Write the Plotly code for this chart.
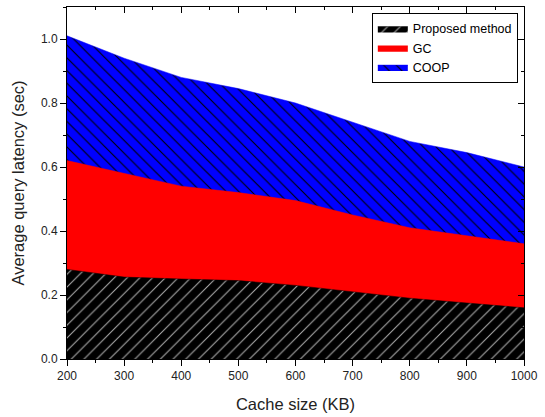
import plotly.graph_objects as go

cache_kb = [200, 300, 400, 500, 600, 700, 800, 900, 1000]
proposed = [0.28, 0.256, 0.25, 0.245, 0.23, 0.21, 0.19, 0.175, 0.16]
gc = [0.62, 0.58, 0.54, 0.52, 0.495, 0.45, 0.41, 0.385, 0.36]
coop = [1.01, 0.94, 0.88, 0.845, 0.80, 0.74, 0.68, 0.645, 0.60]

fig = go.Figure()
fig.add_trace(go.Scatter(
    x=cache_kb, y=coop, name="COOP", mode="lines", fill="tozeroy",
    line=dict(color="#0000ff", width=0.5),
    fillpattern=dict(shape="\\", bgcolor="#0000ff", fgcolor="#000000",
                     size=9, solidity=0.12, fillmode="replace"),
))
fig.add_trace(go.Scatter(
    x=cache_kb, y=gc, name="GC", mode="lines", fill="tozeroy",
    line=dict(color="#ff0000", width=0.5), fillcolor="#ff0000",
))
fig.add_trace(go.Scatter(
    x=cache_kb, y=proposed, name="Proposed method", mode="lines", fill="tozeroy",
    line=dict(color="#000000", width=0.5),
    fillpattern=dict(shape="/", bgcolor="#000000", fgcolor="#aaaaaa",
                     size=9, solidity=0.12, fillmode="replace"),
))
# invisible trace to anchor the mirrored (top/right) axes
fig.add_trace(go.Scatter(x=[200], y=[0], xaxis="x2", yaxis="y2",
                         mode="markers", marker=dict(opacity=0),
                         showlegend=False, hoverinfo="skip"))

font = "Liberation Sans, Arial, sans-serif"
fig.update_layout(
    width=545, height=417,
    margin=dict(l=67, r=21, t=7, b=58),
    paper_bgcolor="white", plot_bgcolor="white",
    font=dict(family=font, color="#222222"),
    showlegend=True,
    legend=dict(
        x=0.667, y=0.983, xanchor="left", yanchor="top",
        traceorder="reversed", bgcolor="white",
        bordercolor="#000000", borderwidth=1,
        font=dict(size=12.5, family=font, color="#000000"),
        itemwidth=30, tracegroupgap=0,
    ),
    xaxis=dict(
        range=[200, 1000], tickvals=[200, 300, 400, 500, 600, 700, 800, 900, 1000],
        ticks="outside", ticklen=6, tickcolor="#000", tickwidth=1,
        minor=dict(dtick=50, tick0=200, ticks="outside", ticklen=3, tickcolor="#000"),
        showline=True, linecolor="#000", linewidth=1, showgrid=False, zeroline=False,
        tickfont=dict(size=12, color="#222"),
        title=dict(text="Cache size (KB)", font=dict(size=16.5, color="#222"), standoff=16),
    ),
    yaxis=dict(
        range=[0, 1.1], tickvals=[0, 0.2, 0.4, 0.6, 0.8, 1.0],
        ticktext=["0.0", "0.2", "0.4", "0.6", "0.8", "1.0"],
        ticks="outside", ticklen=6, tickcolor="#000", tickwidth=1,
        minor=dict(dtick=0.1, tick0=0, ticks="outside", ticklen=3, tickcolor="#000"),
        showline=True, linecolor="#000", linewidth=1, showgrid=False, zeroline=False,
        tickfont=dict(size=12, color="#222"),
        title=dict(text="Average query latency (sec)", font=dict(size=16.5, color="#222"), standoff=12),
    ),
    xaxis2=dict(
        overlaying="x", side="top", range=[200, 1000],
        tickvals=[200, 300, 400, 500, 600, 700, 800, 900, 1000],
        ticks="inside", ticklen=6, tickcolor="#000", showticklabels=False,
        minor=dict(dtick=50, tick0=200, ticks="inside", ticklen=3, tickcolor="#000"),
        showline=True, linecolor="#000", linewidth=1, showgrid=False, zeroline=False,
    ),
    yaxis2=dict(
        overlaying="y", side="right", range=[0, 1.1],
        tickvals=[0, 0.2, 0.4, 0.6, 0.8, 1.0],
        ticks="inside", ticklen=6, tickcolor="#000", showticklabels=False,
        minor=dict(dtick=0.1, tick0=0, ticks="inside", ticklen=3, tickcolor="#000"),
        showline=True, linecolor="#000", linewidth=1, showgrid=False, zeroline=False,
    ),
)

fig.write_html("out.html", config={"displayModeBar": False},
               post_script="document.body.style.margin='0px';document.body.style.padding='0px';")
